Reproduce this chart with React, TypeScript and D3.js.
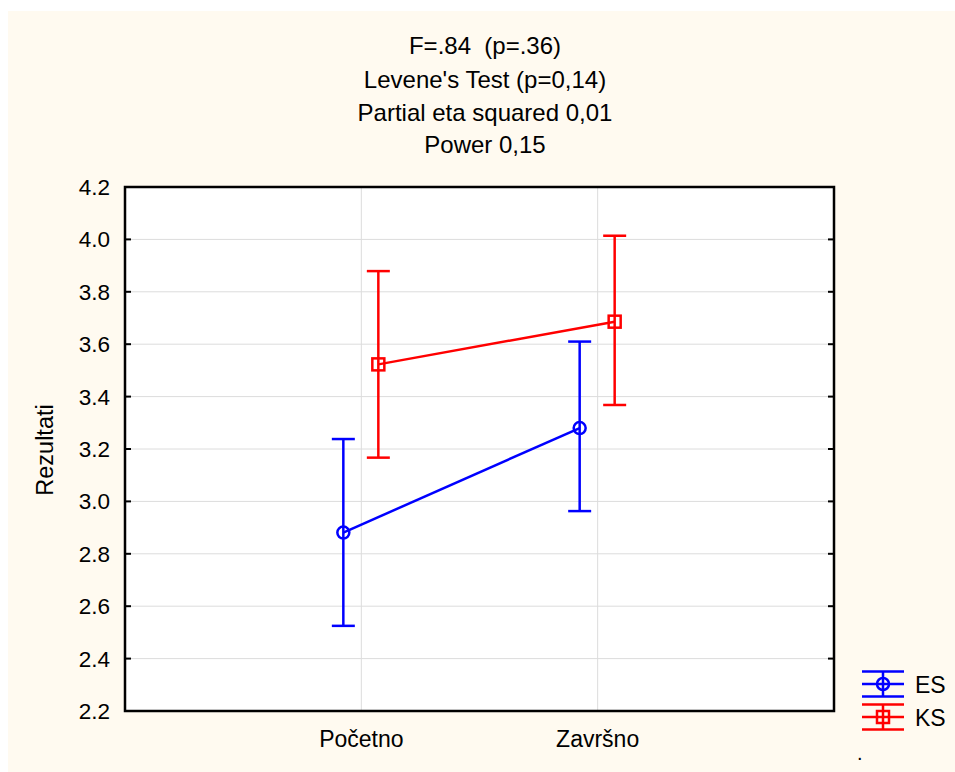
import React from "react";
import * as d3 from "d3";

const categories = ["Početno", "Završno"];
const esMean = [2.881, 3.28];
const esLower = [2.525, 2.963];
const esUpper = [3.238, 3.61];
const ksMean = [3.523, 3.686];
const ksLower = [3.167, 3.368];
const ksUpper = [3.879, 4.014];
const yTicks = [2.2, 2.4, 2.6, 2.8, 3.0, 3.2, 3.4, 3.6, 3.8, 4.0, 4.2];
const titleLines = ["F=.84  (p=.36)", "Levene's Test (p=0,14)", "Partial eta squared 0,01", "Power 0,15"];
const seriesNames = ["ES", "KS"];

const W = 955, H = 772;
const L = 125, R = 834, T = 187, B = 711;
const FONT = "Liberation Sans, Arial, sans-serif";

export default function App() {
  const x = d3.scaleLinear().domain([0, 3]).range([L, R]);
  const y = d3.scaleLinear().domain([2.2, 4.2]).range([B, T]);
  const line = d3.line<[number, number]>().x(d => d[0]).y(d => d[1]);
  const series = [
    { name: seriesNames[0], color: "#0000ff", mean: esMean, lo: esLower, hi: esUpper, off: -18, marker: "circle" },
    { name: seriesNames[1], color: "#ff0000", mean: ksMean, lo: ksLower, hi: ksUpper, off: 17, marker: "square" },
  ];
  const cap = 11.5;
  return (
    <svg width={W} height={H} style={{ position: "absolute", left: 0, top: 0 }} fontFamily={FONT}>
      <rect x={8} y={11} width={W - 8} height={H - 11} fill="#fffaf0" />
      <rect x={L} y={T} width={R - L} height={B - T} fill="#ffffff" />
      {yTicks.slice(1, -1).map(t => (
        <line key={"g" + t} x1={L} x2={R} y1={y(t)} y2={y(t)} stroke="#dcdcdc" strokeWidth={1} />
      ))}
      {categories.map((c, i) => (
        <line key={"gx" + c} x1={x(i + 1)} x2={x(i + 1)} y1={T} y2={B} stroke="#dcdcdc" strokeWidth={1} />
      ))}
      {yTicks.map(t => (
        <g key={"t" + t}>
          <line x1={L} x2={L + 6} y1={y(t)} y2={y(t)} stroke="#000" strokeWidth={2} />
          <line x1={R - 6} x2={R} y1={y(t)} y2={y(t)} stroke="#000" strokeWidth={2} />
          <text x={110} y={y(t) + 8} fontSize={22.5} textAnchor="end" fill="#000">{t.toFixed(1)}</text>
        </g>
      ))}
      <rect x={L} y={T} width={R - L} height={B - T} fill="none" stroke="#000" strokeWidth={2.5} />
      {categories.map((c, i) => (
        <text key={"xl" + c} x={x(i + 1)} y={747} fontSize={23} textAnchor="middle" fill="#000">{c}</text>
      ))}
      <text transform={`translate(53,450) rotate(-90)`} fontSize={23.5} textAnchor="middle" fill="#000">Rezultati</text>
      {titleLines.map((s, i) => (
        <text key={"tt" + i} x={485} y={[54, 88, 121, 153][i]} fontSize={24} textAnchor="middle" fill="#000" style={{ whiteSpace: "pre" }}>{s}</text>
      ))}
      {series.map(s => {
        const pts: [number, number][] = s.mean.map((m, i) => [x(i + 1) + s.off, y(m)]);
        return (
          <g key={s.name}>
            <path d={line(pts) || ""} fill="none" stroke={s.color} strokeWidth={2.5} />
            {s.mean.map((m, i) => {
              const cx = x(i + 1) + s.off;
              return (
                <g key={i} stroke={s.color} strokeWidth={2.5} fill="none">
                  <line x1={cx} x2={cx} y1={y(s.hi[i])} y2={y(s.lo[i])} />
                  <line x1={cx - cap} x2={cx + cap} y1={y(s.hi[i])} y2={y(s.hi[i])} />
                  <line x1={cx - cap} x2={cx + cap} y1={y(s.lo[i])} y2={y(s.lo[i])} />
                  {s.marker === "circle" ? (
                    <circle cx={cx} cy={y(m)} r={6} />
                  ) : (
                    <rect x={cx - 6} y={y(m) - 6} width={12} height={12} />
                  )}
                </g>
              );
            })}
          </g>
        );
      })}
      {series.map((s, i) => {
        const cy = 684 + i * 33;
        const cx = 883;
        return (
          <g key={"lg" + s.name}>
            <g stroke={s.color} strokeWidth={2.5} fill="none">
              <line x1={862} x2={904} y1={cy - 12.5} y2={cy - 12.5} />
              <line x1={862} x2={904} y1={cy} y2={cy} />
              <line x1={862} x2={904} y1={cy + 12.5} y2={cy + 12.5} />
              <line x1={cx} x2={cx} y1={cy - 12.5} y2={cy + 12.5} />
              {s.marker === "circle" ? (
                <circle cx={cx} cy={cy} r={6} />
              ) : (
                <rect x={cx - 6} y={cy - 6} width={12} height={12} />
              )}
            </g>
            <text x={915} y={cy + 8.5} fontSize={23} fill="#000">{s.name}</text>
          </g>
        );
      })}
      <text x={857} y={760} fontSize={20} fill="#000">.</text>
    </svg>
  );
}
